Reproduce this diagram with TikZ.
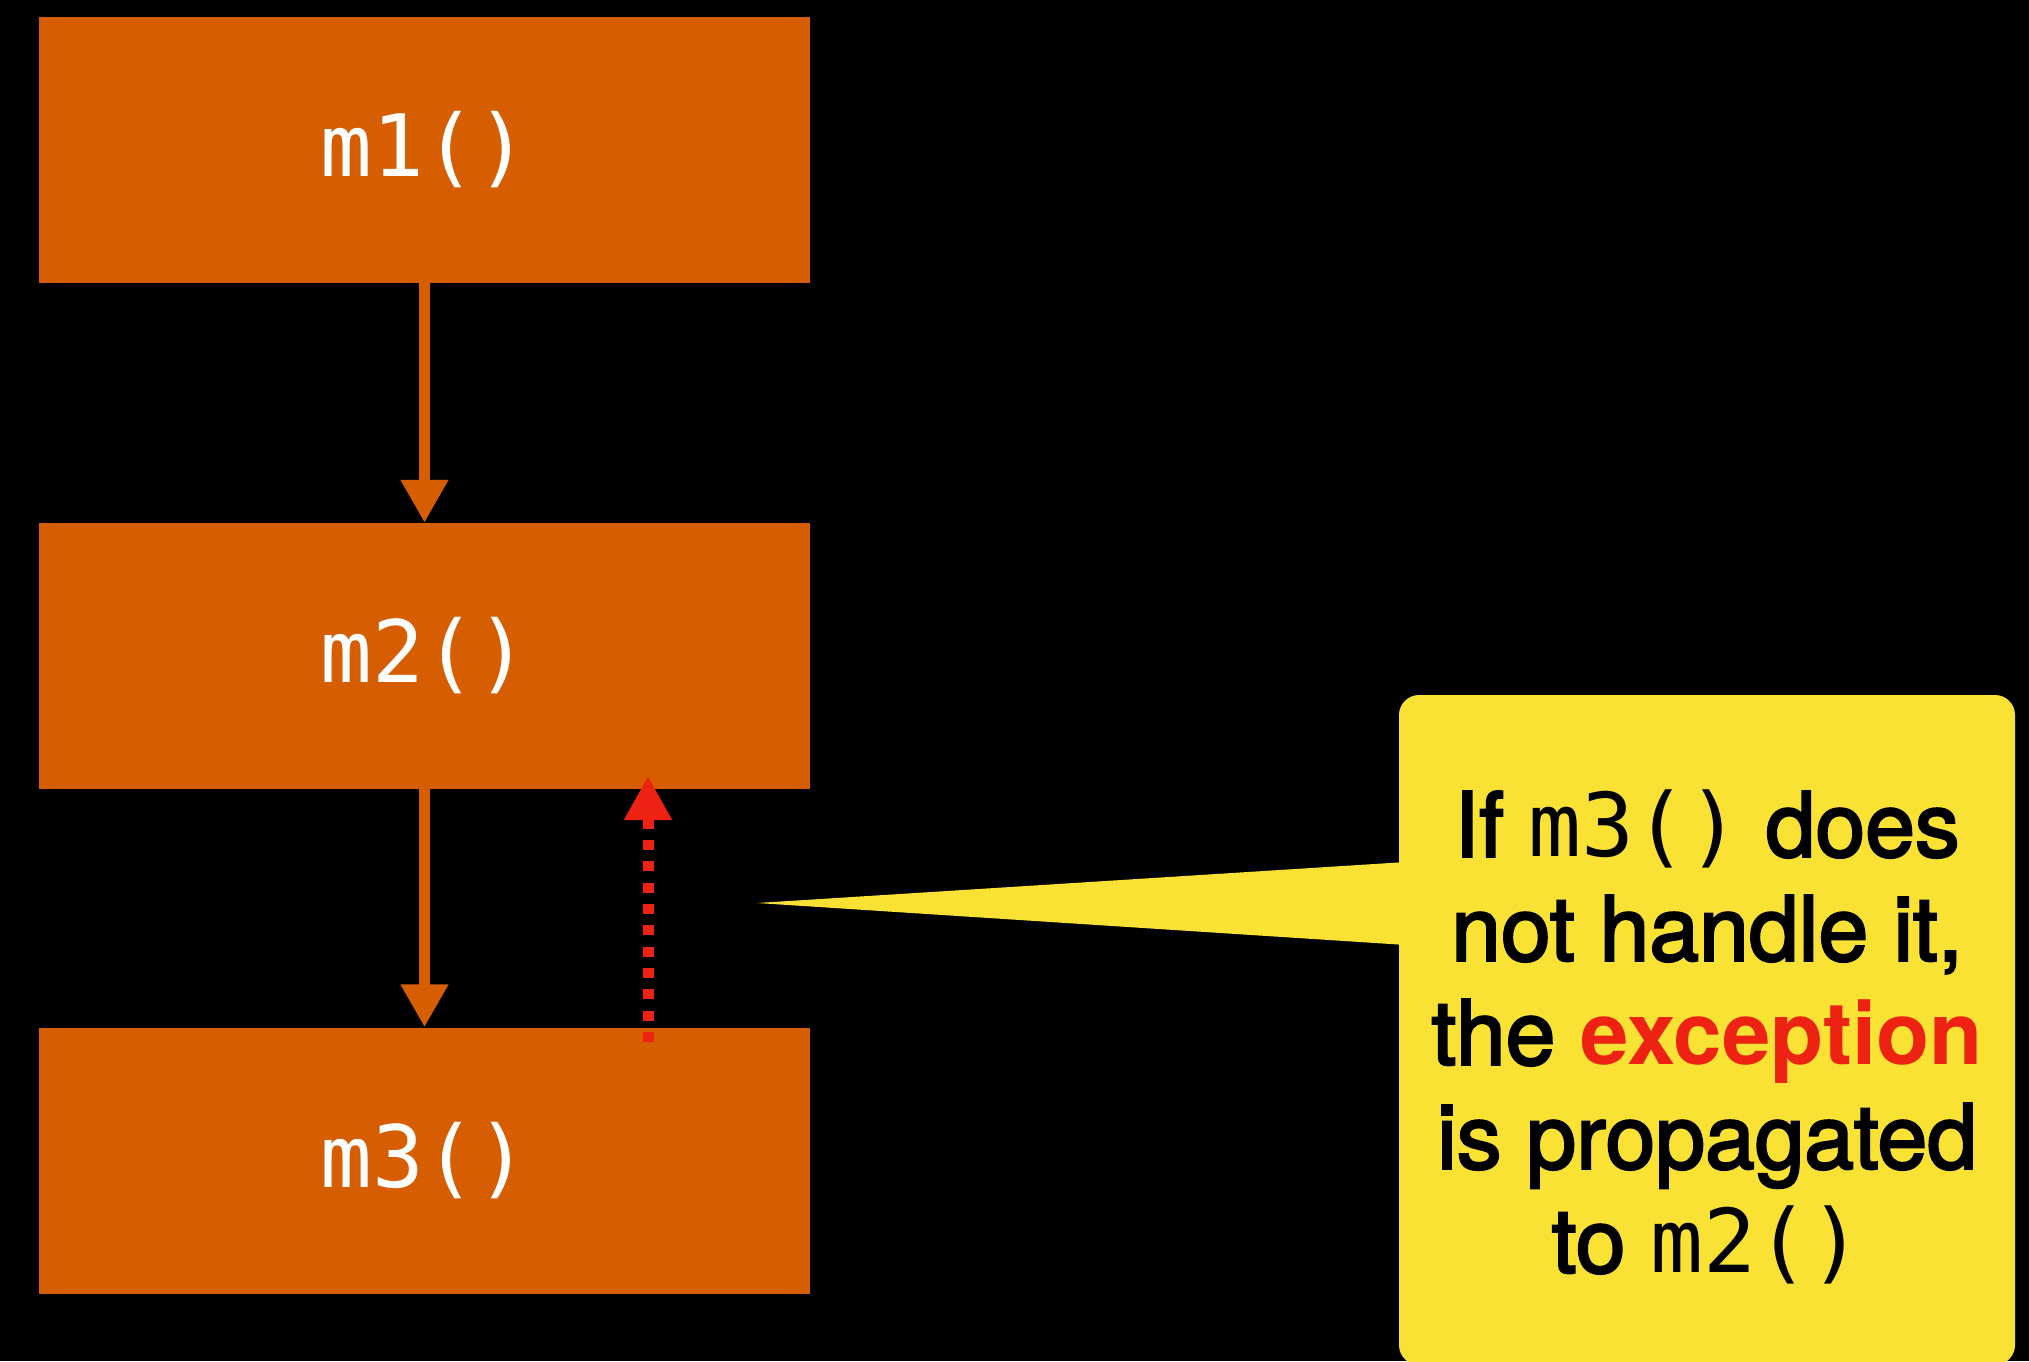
\documentclass[tikz,border=0pt]{standalone}
\usepackage{fontspec}
\usetikzlibrary{arrows.meta}
\newfontfamily\monofont{DejaVu Sans Mono}
\newfontfamily\medfont{TeX Gyre Heros}[FakeBold=2.6]
\newfontfamily\herosfont{TeX Gyre Heros}
\definecolor{boxorange}{RGB}{214,94,0}
\definecolor{noteyellow}{RGB}{249,226,52}
\definecolor{exred}{RGB}{238,34,18}
\begin{document}
\begin{tikzpicture}[x=1pt,y=-1pt,
  callbox/.style={fill=boxorange, draw=none, minimum width=771pt, minimum height=266pt,
    inner sep=0pt, text=white, font=\monofont\fontsize{86}{86}\selectfont},
  callarrow/.style={draw=boxorange, line width=11pt, -{Triangle[width=45pt,length=43pt]}},
  exarrow/.style={draw=exred, line width=11pt, dash pattern=on 10pt off 11.33pt,
    -{Triangle[width=45pt,length=44pt]}},
  notebox/.style={fill=noteyellow, rounded corners=20pt, minimum width=616pt,
    minimum height=670pt, inner sep=0pt},
  notetext/.style={align=center, inner sep=0pt, text=black,
    font=\medfont\fontsize{89.5}{104}\selectfont}
]
\fill[black] (0,0) rectangle (2029,1361);
\useasboundingbox (0,0) rectangle (2029,1361);

\node[callbox] (m1) at (424.5,150) {m1()};
\node[callbox] (m2) at (424.5,656) {m2()};
\node[callbox] (m3) at (424.5,1160.5) {m3()};

\draw[callarrow] (m1) -- (m2);
\draw[callarrow] (m2) -- (m3);

\coordinate (exS) at (648,1042);
\coordinate (exT) at (648,776);
\draw[exarrow] (exS) -- (exT);

\node[notebox] (note) at (1707,1030) {};
\coordinate (ptip) at (757,903);
\fill[noteyellow] (1406,862) -- (ptip) -- (1406,945) -- cycle;
\node[notetext] (notetext) at (1707,1037) {If {\monofont\fontsize{88}{104}\selectfont m3()} does\\
not handle it,\\
the {\herosfont\fontsize{87}{104}\selectfont\bfseries\color{exred}exception}\\
is propagated\\
to {\monofont\fontsize{88}{104}\selectfont m2()}};
\end{tikzpicture}
\end{document}
